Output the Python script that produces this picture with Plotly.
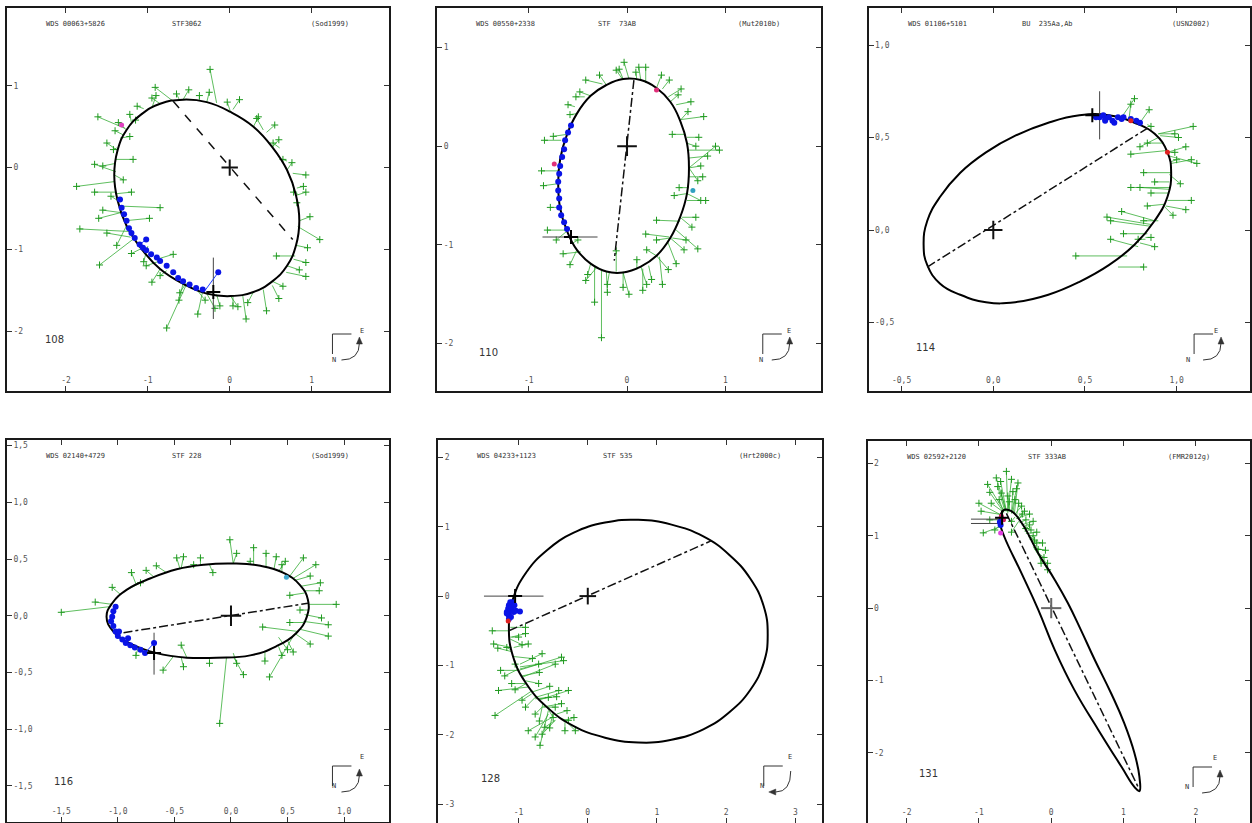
import plotly.graph_objects as go

# ---------------- DATA ----------------
titles_left = ["WDS 00063+5826", "WDS 00550+2338", "WDS 01106+5101",
               "WDS 02140+4729", "WDS 04233+1123", "WDS 02592+2120"]
titles_mid = ["STF3062", "STF  73AB", "BU  235Aa,Ab", "STF 228", "STF 535", "STF 333AB"]
titles_right = ["(Sod1999)", "(Mut2010b)", "(USN2002)", "(Sod1999)", "(Hrt2000c)", "(FMR2012g)"]
panel_numbers = ["108", "110", "114", "116", "128", "131"]

x_tickvals = [[-2, -1, 0, 1], [-1, 0, 1], [-0.5, 0.0, 0.5, 1.0],
              [-1.5, -1.0, -0.5, 0.0, 0.5, 1.0], [-2, -1, 0, 1, 2, 3], [-2, -1, 0, 1, 2]]
x_ticktext = [["-2", "-1", "0", "1"], ["-1", "0", "1"], ["-0,5", "0,0", "0,5", "1,0"],
              ["-1,5", "-1,0", "-0,5", "0,0", "0,5", "1,0"], ["-2", "-1", "0", "1", "2", "3"],
              ["-2", "-1", "0", "1", "2"]]
y_tickvals = [[1, 0, -1, -2], [1, 0, -1, -2], [1.0, 0.5, 0.0, -0.5],
              [1.5, 1.0, 0.5, 0.0, -0.5, -1.0, -1.5], [2, 1, 0, -1, -2, -3], [2, 1, 0, -1, -2, -3]]
y_ticktext = [["1", "0", "-1", "-2"], ["1", "0", "-1", "-2"], ["1,0", "0,5", "0,0", "-0,5"],
              ["1,5", "1,0", "0,5", "0,0", "-0,5", "-1,0", "-1,5"], ["2", "1", "0", "-1", "-2", "-3"],
              ["2", "1", "0", "-1", "-2", "-3"]]

# ---- panel 1 : STF3062
p1_orbit_x = [0.85, 0.81, 0.70, 0.52, 0.29, 0.01, -0.28, -0.57, -0.85, -1.08, -1.26, -1.37, -1.41,
              -1.37, -1.26, -1.08, -0.85, -0.57, -0.28, 0.01, 0.29, 0.52, 0.70, 0.81, 0.85]
p1_orbit_y = [-0.65, -0.34, -0.03, 0.25, 0.50, 0.68, 0.80, 0.83, 0.78, 0.65, 0.46, 0.21, -0.09,
              -0.40, -0.71, -0.99, -1.24, -1.42, -1.54, -1.57, -1.52, -1.39, -1.20, -0.95, -0.65]
p1_apsides_x = [-0.69, 0.77]
p1_apsides_y = [0.81, -0.88]
p1_obs_x = [-0.24, -0.91, -1.61, -1.65, -1.87, -1.83, -0.85, -1.59, -0.77, 1.10,
            0.93, 0.93, 0.20, 0.57, -0.39, -1.02, -0.69, -1.55, -1.65, -1.20,
            -1.22, -1.13, 0.12, 0.33, 0.53, 0.65, 0.90, 0.82, 0.93, 0.45,
            0.04, -0.12, -0.61, -0.85, -1.05, -1.42, -1.18, -0.65, -0.37, 0.55,
            0.78, 0.60, -0.30, -0.98, -1.50,
            0.93, 0.76, 0.60, 0.35, -0.03, -0.25, -0.50, -0.95, -1.15, -1.36,
            -1.50, -1.30, -1.45, -1.38, -1.20, -0.95, -0.62, -0.18, 0.10, 0.22,
            0.65, 0.85, 0.95, 0.98, -1.40, -1.22, -0.90, -1.55, -1.60]
p1_obs_y = [1.20, 0.98, 0.62, 0.04, -0.23, -0.75, -0.49, -1.19, -1.96, -0.88,
            -0.09, -1.33, -1.85, -1.08, -1.79, -1.20, -1.06, -0.52, -0.30, -0.30,
            0.38, 0.75, 0.83, 0.60, 0.30, 0.10, -0.23, -0.43, -1.16, -1.75,
            -1.69, -1.69, -1.53, -1.32, -1.15, 0.22, 0.10, 0.90, 0.88, 0.52,
            -0.30, -1.60, -1.62, -0.62, -0.80,
            -0.30, 0.06, 0.34, 0.62, 0.80, 0.92, 0.95, 0.85, 0.58, 0.55,
            0.30, -0.15, -0.35, -0.95, -1.05, -1.40, -1.62, -1.72, -1.70, -1.65,
            -1.45, -1.25, -0.98, -0.60, 0.45, 0.65, 0.88, 0.02, -0.62]
p1_fit_x = [-0.16, -0.69, -1.28, -1.39, -1.40, -1.24, -1.34, -1.16, -0.53, 0.83,
            0.77, 0.69, 0.16, 0.80, -0.33, -0.85, -0.89, -1.33, -1.40, -1.39,
            -1.34, -1.05, 0.04, 0.41, 0.61, 0.70, 0.82, 0.85, 0.78, 0.41,
            0.04, -0.16, -0.53, -0.77, -1.00, -1.38, -1.40, -0.61, -0.37, 0.45,
            0.84, 0.52, -0.42, -1.28, -1.21,
            0.81, 0.70, 0.52, 0.29, 0.01, -0.28, -0.57, -0.85, -1.08, -1.26,
            -1.37, -1.41, -1.37, -1.26, -1.08, -0.85, -0.57, -0.28, 0.01, 0.29,
            0.52, 0.70, 0.81, 0.85, -1.30, -1.20, -0.95, -1.40, -1.33]
p1_fit_y = [0.79, 0.81, 0.48, -0.05, -0.17, -0.78, -0.47, -0.86, -1.43, -0.72,
            -0.07, -1.28, -1.57, -1.08, -1.51, -1.14, -1.12, -0.55, -0.30, -0.32,
            0.36, 0.72, 0.71, 0.46, 0.24, 0.08, -0.25, -0.43, -1.12, -1.49,
            -1.56, -1.55, -1.41, -1.26, -0.96, 0.24, 0.10, 0.82, 0.82, 0.43,
            -0.33, -1.44, -1.47, -0.65, -0.85,
            -0.34, -0.03, 0.25, 0.50, 0.68, 0.80, 0.83, 0.78, 0.65, 0.46,
            0.21, -0.09, -0.40, -0.71, -0.99, -1.24, -1.42, -1.54, -1.57, -1.52,
            -1.39, -1.20, -0.95, -0.65, 0.40, 0.55, 0.73, 0.05, -0.55]
p1_blue_x = [-1.34, -1.32, -1.29, -1.26, -1.23, -1.20, -1.16, -1.10, -1.06, -1.02, -0.96,
             -0.89, -0.85, -0.77, -0.69, -0.63, -0.57, -0.49, -0.41, -0.33, -1.02, -0.14]
p1_blue_y = [-0.39, -0.49, -0.57, -0.65, -0.74, -0.80, -0.86, -0.94, -0.98, -1.01, -1.06,
             -1.10, -1.14, -1.20, -1.28, -1.35, -1.39, -1.43, -1.47, -1.49, -0.88, -1.28]
p1_bluefit_x = [-0.30, -1.10]
p1_bluefit_y = [-1.50, -0.94]
p1_bluelink_x = [-0.14, -1.02]
p1_bluelink_y = [-1.28, -0.88]
p1_extra_x = [-1.32]
p1_extra_y = [0.52]
p1_extra_c = ["#e040c0"]
p1_now = [-0.20, -1.52]
p1_err_x = [[-0.20, -0.20], [-0.27, -0.13]]
p1_err_y = [[-1.10, -1.85], [-1.52, -1.52]]

# ---- panel 2 : STF 73AB
p2_orbit_x = [0.63, 0.61, 0.54, 0.44, 0.30, 0.14, -0.04, -0.21, -0.37, -0.51, -0.61, -0.68, -0.70,
              -0.68, -0.61, -0.51, -0.37, -0.21, -0.04, 0.14, 0.30, 0.44, 0.54, 0.61, 0.63]
p2_orbit_y = [-0.22, 0.03, 0.26, 0.45, 0.59, 0.67, 0.68, 0.62, 0.51, 0.33, 0.12, -0.13, -0.38,
              -0.63, -0.86, -1.05, -1.19, -1.27, -1.28, -1.22, -1.11, -0.93, -0.72, -0.48, -0.22]
p2_apsides_x = [0.07, -0.13]
p2_apsides_y = [0.67, -1.16]
p2_obs_x = [-0.26, -0.33, 0.94, 0.80, 0.72, -0.84, -0.87, -0.03, 0.43, 0.73,
            0.77, -0.52, -0.42, -0.11, 0.19, -0.81, -0.65, -0.04, 0.16, 0.36,
            0.50, 0.19, -0.42, -0.11, 0.53, 0.70, 0.46, -0.60, 0.78, 0.55,
            -0.50, 0.30, 0.60, 0.10, 0.25, 0.82, -0.78, 0.09, 0.65, -0.20,
            0.75, 0.70, 0.62, 0.52, 0.35, 0.12, -0.08, -0.28, -0.48, -0.58,
            -0.75, -0.85, -0.72, -0.58, -0.40, -0.20, 0.02, 0.20, 0.42, 0.58,
            0.66, 0.75, 0.48, 0.30, 0.20, 0.90, 0.72]
p2_obs_y = [-1.94, -1.58, -0.04, -0.55, -1.04, 0.06, -0.25, 0.85, 0.67, 0.09,
            -0.31, 0.50, 0.67, 0.77, 0.80, -0.85, -1.09, -1.43, -1.46, -1.40,
            -1.19, -0.89, -1.36, -1.06, -0.42, -0.72, 0.12, 0.42, 0.30, 0.58,
            -0.95, -0.75, -0.95, -1.15, -1.35, -0.10, -0.62, 0.75, 0.45, -1.40,
            -0.20, 0.00, 0.35, 0.52, 0.72, 0.80, 0.78, 0.72, 0.55, 0.32,
            0.10, -0.40, -0.95, -1.20, -1.30, -1.48, -1.50, -1.40, -1.25, -1.05,
            -0.82, -0.55, -0.50, -0.95, -1.05, 0.00, -0.35]
p2_fit_x = [-0.26, -0.33, 0.63, 0.61, 0.50, -0.67, -0.70, 0.02, 0.36, 0.61,
            0.63, -0.43, -0.25, -0.04, 0.19, -0.62, -0.47, -0.04, 0.16, 0.33,
            0.41, 0.43, -0.31, -0.11, 0.63, 0.56, 0.60, -0.53, 0.55, 0.42,
            -0.55, 0.54, 0.46, 0.10, 0.22, 0.63, -0.68, 0.10, 0.50, -0.18,
            0.63, 0.61, 0.54, 0.44, 0.30, 0.14, -0.04, -0.21, -0.37, -0.51,
            -0.61, -0.70, -0.61, -0.51, -0.37, -0.21, -0.04, 0.14, 0.30, 0.44,
            0.54, 0.61, 0.61, 0.44, 0.30, 0.63, 0.63]
p2_fit_y = [-1.26, -1.21, -0.04, -0.55, -0.85, 0.06, -0.25, 0.68, 0.58, 0.09,
            -0.31, 0.50, 0.63, 0.67, 0.64, -0.85, -1.07, -1.27, -1.24, -1.12,
            -0.96, -0.92, -1.23, -1.27, -0.42, -0.72, 0.12, 0.40, 0.27, 0.50,
            -0.98, -0.76, -0.93, -1.25, -1.21, -0.12, -0.62, 0.67, 0.42, -1.28,
            -0.22, 0.03, 0.26, 0.45, 0.59, 0.67, 0.68, 0.62, 0.51, 0.33,
            0.12, -0.38, -0.86, -1.05, -1.19, -1.27, -1.28, -1.22, -1.11, -0.93,
            -0.72, -0.48, -0.48, -0.93, -1.11, -0.22, -0.22]
p2_blue_x = [-0.57, -0.60, -0.63, -0.64, -0.66, -0.68, -0.69, -0.70, -0.70, -0.69, -0.69, -0.67, -0.64, -0.61]
p2_blue_y = [0.21, 0.14, 0.06, -0.03, -0.11, -0.20, -0.28, -0.36, -0.45, -0.53, -0.62, -0.70, -0.77, -0.84]
p2_bluefit_x = []
p2_bluefit_y = []
p2_bluelink_x = []
p2_bluelink_y = []
p2_extra_x = [0.30, -0.74, 0.67]
p2_extra_y = [0.57, -0.18, -0.45]
p2_extra_c = ["#e0307a", "#e0307a", "#30a0c0"]
p2_now = [-0.57, -0.92]
p2_err_x = [[-0.86, -0.30], [-0.57, -0.57]]
p2_err_y = [[-0.92, -0.92], [-0.97, -0.87]]

# ---- panel 3 : BU 235Aa,Ab
p3_orbit_x = [0.97, 0.95, 0.88, 0.77, 0.63, 0.47, 0.30, 0.12, -0.04, -0.18, -0.29, -0.36, -0.38,
              -0.36, -0.29, -0.18, -0.04, 0.12, 0.30, 0.47, 0.63, 0.77, 0.88, 0.95, 0.97]
p3_orbit_y = [0.31, 0.42, 0.52, 0.58, 0.62, 0.62, 0.58, 0.51, 0.42, 0.31, 0.18, 0.05, -0.08,
              -0.19, -0.29, -0.35, -0.39, -0.39, -0.35, -0.28, -0.19, -0.08, 0.05, 0.18, 0.31]
p3_apsides_x = [-0.36, 0.84]
p3_apsides_y = [-0.20, 0.55]
p3_obs_x = [0.77, 1.09, 1.11, 1.08, 0.64, 0.88, 0.82, 0.45, 0.80, 0.82,
            0.75, 1.01, 1.05, 0.84, 0.71, 0.84, 0.64, 0.75, 0.62, 1.08,
            0.86, 0.99, 0.86, 0.79, 1.00, 0.88, 0.99, 0.86, 0.75, 0.82,
            1.05, 1.02, 0.98, 0.70, 0.85, 0.80]
p3_obs_y = [0.71, 0.56, 0.36, 0.16, 0.05, -0.09, -0.20, -0.14, 0.23, 0.31,
            0.41, 0.50, 0.11, 0.13, -0.02, 0.47, -0.05, 0.68, 0.07, 0.38,
            0.20, 0.52, 0.56, -0.05, 0.38, 0.26, 0.42, -0.04, 0.23, 0.05,
            0.45, 0.25, 0.08, 0.10, 0.65, 0.45]
p3_fit_x = [0.70, 0.90, 0.96, 0.95, 0.86, 0.80, 0.68, 0.73, 0.96, 0.97,
            0.95, 0.91, 0.94, 0.94, 0.84, 0.93, 0.79, 0.74, 0.86, 0.97,
            0.96, 0.90, 0.84, 0.83, 0.97, 0.96, 0.95, 0.83, 0.96, 0.90,
            0.95, 0.96, 0.93, 0.88, 0.80, 0.90]
p3_fit_y = [0.61, 0.52, 0.40, 0.16, 0.02, -0.07, -0.20, -0.14, 0.22, 0.31,
            0.43, 0.51, 0.13, 0.14, -0.02, 0.47, -0.09, 0.60, 0.03, 0.36,
            0.20, 0.52, 0.57, -0.05, 0.37, 0.26, 0.42, -0.04, 0.23, 0.05,
            0.42, 0.30, 0.13, 0.05, 0.58, 0.50]
p3_blue_x = [0.56, 0.58, 0.60, 0.61, 0.63, 0.65, 0.66, 0.68, 0.70, 0.71, 0.75, 0.78, 0.80, 0.61]
p3_blue_y = [0.61, 0.61, 0.62, 0.60, 0.61, 0.59, 0.58, 0.61, 0.60, 0.61, 0.60, 0.59, 0.58, 0.59]
p3_bluefit_x = []
p3_bluefit_y = []
p3_bluelink_x = []
p3_bluelink_y = []
p3_extra_x = [0.75, 0.95]
p3_extra_y = [0.59, 0.42]
p3_extra_c = ["#e02020", "#e02020"]
p3_now = [0.54, 0.62]
p3_err_x = [[0.58, 0.58]]
p3_err_y = [[0.49, 0.75]]

# ---- panel 4 : STF 228
p4_orbit_x = [0.02, 0.26, 0.46, 0.61, 0.68, 0.67, 0.58, 0.40, 0.17, -0.13, -0.39, -0.66, -0.86,
              -1.04, -1.10, -1.05, -0.92, -0.71, -0.48, -0.24, 0.02]
p4_orbit_y = [0.46, 0.44, 0.38, 0.27, 0.14, -0.01, -0.15, -0.27, -0.35, -0.37, -0.37, -0.33, -0.26,
              -0.14, -0.01, 0.11, 0.23, 0.33, 0.41, 0.45, 0.46]
p4_apsides_x = [-0.95, 0.68]
p4_apsides_y = [-0.15, 0.11]
p4_obs_x = [-1.50, -0.10, 0.34, 0.86, 0.93, 0.79, -0.01, 0.20, -0.27, -0.66,
            -0.48, 0.31, 0.64, -0.60, -0.44, 0.11, -0.19, 0.61, 0.52, 0.28,
            -0.80, -0.16, 0.45, 0.55, 0.86, 0.75, -0.33, -0.75, 0.40, 0.52,
            0.70, -0.84, 0.17, 0.45, 0.30,
            -1.20, -1.05, -0.88, -0.42, 0.05, 0.48, 0.70, 0.78, 0.80, 0.50, 0.05, -0.42]
p4_obs_y = [0.03, -0.95, -0.54, -0.18, 0.10, 0.29, 0.67, 0.60, 0.51, 0.44,
            0.51, 0.55, 0.51, -0.48, -0.26, -0.52, -0.42, 0.05, -0.06, -0.10,
            0.29, 0.38, -0.35, -0.32, -0.08, 0.45, 0.45, 0.40, 0.52, 0.18,
            -0.25, -0.35, 0.48, 0.45, -0.40,
            0.12, 0.25, 0.38, 0.52, 0.55, 0.48, 0.35, 0.22, -0.02, -0.30, -0.42, -0.45]
p4_fit_x = [-1.07, -0.04, 0.55, 0.61, 0.68, 0.62, 0.02, 0.20, -0.27, -0.57,
            -0.45, 0.31, 0.52, -0.51, -0.39, 0.02, -0.19, 0.68, 0.64, 0.60,
            -0.92, -0.19, 0.42, 0.50, 0.64, 0.55, -0.36, -0.68, 0.38, 0.65,
            0.57, -0.82, 0.14, 0.45, 0.30,
            -1.05, -0.98, -0.84, -0.44, 0.02, 0.42, 0.56, 0.65, 0.65, 0.42, 0.02, -0.44]
p4_fit_y = [0.08, -0.37, -0.18, -0.12, 0.10, 0.26, 0.46, 0.45, 0.44, 0.38,
            0.41, 0.43, 0.35, -0.36, -0.37, -0.36, -0.37, 0.05, -0.06, -0.14,
            0.23, 0.45, -0.27, -0.22, -0.05, 0.33, 0.43, 0.34, 0.41, 0.20,
            -0.16, -0.28, 0.45, 0.38, -0.31,
            0.10, 0.19, 0.28, 0.42, 0.46, 0.39, 0.31, 0.22, 0.01, -0.19, -0.33, -0.37]
p4_blue_x = [-1.02, -1.04, -1.05, -1.06, -1.04, -1.02, -1.00, -0.96, -0.93, -0.89, -0.85, -0.80,
             -0.76, -0.68, -0.99, -0.91]
p4_blue_y = [0.08, 0.04, -0.01, -0.05, -0.09, -0.14, -0.18, -0.21, -0.24, -0.26, -0.28, -0.30,
             -0.33, -0.24, -0.14, -0.20]
p4_bluefit_x = [-0.76]
p4_bluefit_y = [-0.33]
p4_bluelink_x = [-0.68]
p4_bluelink_y = [-0.24]
p4_extra_x = [0.49]
p4_extra_y = [0.34]
p4_extra_c = ["#40a8d0"]
p4_now = [-0.68, -0.33]
p4_err_x = [[-0.68, -0.68]]
p4_err_y = [[-0.15, -0.52]]

# ---- panel 5 : STF 535
p5_orbit_x = [2.60, 2.54, 2.35, 2.05, 1.67, 1.21, 0.73, 0.25, -0.21, -0.59, -0.89, -1.08, -1.14,
              -1.08, -0.89, -0.59, -0.21, 0.25, 0.73, 1.21, 1.67, 2.05, 2.35, 2.54, 2.60]
p5_orbit_y = [-0.56, -0.14, 0.25, 0.59, 0.86, 1.03, 1.10, 1.06, 0.91, 0.66, 0.34, -0.04, -0.46,
              -0.87, -1.26, -1.60, -1.87, -2.04, -2.11, -2.07, -1.92, -1.67, -1.35, -0.97, -0.56]
p5_apsides_x = [-1.14, 1.79]
p5_apsides_y = [-0.50, 0.80]
p5_obs_x = [-1.38, -1.34, -0.38, -0.69, -0.18, -1.29, -1.26, -1.36, -0.90, -0.66,
            -0.47, -0.42, -0.38, -0.62, -0.76, -0.86, -1.10, -0.76, -0.95, -0.90,
            -0.28, -0.35, -1.17, -0.71, -0.57, -0.33, -0.86, -1.05, -0.47, -0.28,
            -0.71, -1.00, -0.66,
            -1.30, -0.80, -0.70, -0.55, -0.45, -0.50, -0.30, -0.20, -0.90, -1.05,
            -1.20, -0.95, -0.70, -0.55]
p5_obs_y = [-0.50, -1.72, -0.88, -2.15, -1.94, -1.36, -1.07, -0.69, -0.54, -0.83,
            -0.98, -1.36, -1.55, -1.89, -2.03, -0.69, -1.26, -1.70, -1.50, -0.45,
            -1.79, -0.93, -0.74, -1.26, -1.46, -1.94, -1.94, -0.98, -1.60, -1.36,
            -0.98, -0.59, -1.99,
            -0.75, -0.90, -1.10, -1.30, -1.45, -1.75, -1.65, -1.75, -1.60, -1.35,
            -1.15, -0.70, -1.80, -1.90]
p5_fit_x = [-1.14, -0.80, -1.00, -0.57, -0.33, -0.86, -1.00, -1.10, -1.10, -0.98,
            -0.95, -0.76, -0.66, -0.47, -0.57, -1.07, -0.90, -0.66, -0.81, -1.12,
            -0.38, -0.98, -1.10, -0.90, -0.76, -0.33, -0.52, -1.01, -0.64, -0.71,
            -0.98, -1.12, -0.47,
            -1.10, -1.08, -0.95, -0.80, -0.70, -0.59, -0.45, -0.35, -0.75, -0.89,
            -1.00, -1.12, -0.65, -0.50]
p5_fit_y = [-0.50, -1.36, -1.07, -1.65, -1.79, -1.31, -1.07, -0.74, -0.59, -0.98,
            -1.17, -1.46, -1.60, -1.79, -1.70, -0.74, -1.26, -1.60, -1.41, -0.45,
            -1.77, -1.02, -0.78, -1.22, -1.48, -1.82, -1.75, -1.02, -1.60, -1.50,
            -1.05, -0.59, -1.79,
            -0.80, -0.87, -1.15, -1.38, -1.48, -1.60, -1.70, -1.80, -1.45, -1.26,
            -1.05, -0.62, -1.55, -1.67]
p5_blue_x = [-1.12, -1.14, -1.15, -1.17, -1.14, -1.12, -1.10, -1.07, -1.04, -0.98, -1.14, -1.11,
             -1.17, -1.09, -1.06]
p5_blue_y = [-0.09, -0.13, -0.18, -0.23, -0.28, -0.21, -0.16, -0.23, -0.21, -0.22, -0.33, -0.30,
             -0.25, -0.09, -0.13]
p5_bluefit_x = []
p5_bluefit_y = []
p5_bluelink_x = []
p5_bluelink_y = []
p5_extra_x = [-1.15]
p5_extra_y = [-0.36]
p5_extra_c = ["#e02020"]
p5_now = [-1.05, 0.0]
p5_err_x = [[-1.50, -0.64], [-1.05, -1.05]]
p5_err_y = [[0.0, 0.0], [-0.05, 0.05]]

# ---- panel 6 : STF 333AB
p6_orbit_x = [-0.65, -0.55, -0.41, -0.18, 0.05, 0.23, 0.41, 0.60, 0.83, 1.01, 1.15, 1.22, 1.22, 1.15,
              0.97, 0.65, 0.32, 0.05, -0.18, -0.41, -0.65, -0.71, -0.70, -0.65]
p6_orbit_y = [1.36, 1.34, 1.18, 0.76, 0.39, 0.07, -0.30, -0.71, -1.18, -1.59, -2.00, -2.33, -2.53, -2.47,
              -2.19, -1.68, -1.13, -0.58, -0.02, 0.48, 0.99, 1.18, 1.29, 1.36]
p6_apsides_x = [-0.62, 1.22]
p6_apsides_y = [1.31, -2.51]
p6_obs_x = [-0.62, -0.88, -0.76, -0.53, -0.97, -0.94, -0.37, -0.05, -0.28, -0.69,
            -0.83, -0.41, -0.23, -0.14, -0.46, -0.78, -0.85, -0.58, -0.35, -0.18,
            -0.74, -0.30, -0.25, -0.60, -0.50, -0.40, -0.20, -0.10, -0.45, -0.72,
            -0.35, -0.55,
            -0.70, -0.48, -0.30, -0.25, -0.20, -0.12, -0.08, -0.05, -0.85, -1.00, -0.55, -0.55]
p6_obs_y = [1.89, 1.71, 1.80, 1.61, 1.34, 1.04, 1.34, 0.53, 1.08, 1.59,
            1.45, 1.41, 0.94, 0.62, 1.73, 1.08, 1.22, 1.47, 1.22, 0.81,
            1.68, 1.15, 1.00, 1.55, 1.50, 1.30, 0.90, 0.70, 1.45, 1.50,
            1.10, 1.20,
            1.75, 1.65, 1.30, 1.20, 1.05, 0.90, 0.80, 0.62, 1.60, 1.45, 1.78, 1.05]
p6_fit_x = [-0.60, -0.65, -0.62, -0.55, -0.67, -0.69, -0.48, -0.25, -0.39, -0.63,
            -0.65, -0.51, -0.32, -0.16, -0.51, -0.68, -0.68, -0.58, -0.44, -0.23,
            -0.64, -0.37, -0.30, -0.58, -0.53, -0.45, -0.25, -0.18, -0.48, -0.66,
            -0.40, -0.50,
            -0.62, -0.55, -0.48, -0.41, -0.35, -0.28, -0.22, -0.15, -0.66, -0.68, -0.60, -0.45]
p6_fit_y = [1.31, 1.34, 1.34, 1.31, 1.29, 1.13, 1.24, 0.85, 1.13, 1.34,
            1.32, 1.29, 0.99, 0.71, 1.31, 1.18, 1.22, 1.34, 1.18, 0.88,
            1.34, 1.06, 0.95, 1.34, 1.32, 1.22, 0.88, 0.76, 1.27, 1.33,
            1.10, 1.26,
            1.34, 1.31, 1.24, 1.15, 1.03, 0.93, 0.83, 0.68, 1.33, 1.28, 1.33, 1.20]
p6_blue_x = [-0.70, -0.71]
p6_blue_y = [1.15, 1.19]
p6_bluefit_x = []
p6_bluefit_y = []
p6_bluelink_x = []
p6_bluelink_y = []
p6_extra_x = [-0.69, -0.66, -0.70]
p6_extra_y = [1.27, 1.22, 1.04]
p6_extra_c = ["#d02060", "#d02060", "#e040e0"]
p6_now = [-0.68, 1.25]
p6_err_x = [[-1.11, -0.69], [-1.11, -0.69]]
p6_err_y = [[1.23, 1.23], [1.17, 1.17]]

# ---------------- LAYOUT CONSTANTS ----------------
W, H = 1252, 823
frames = [(7, 8, 390, 391), (438, 8, 822, 391), (870, 8, 1252, 391),
          (7, 440, 390, 822), (439, 440, 823, 823), (869, 441, 1252, 823)]
x_ranges = [[-2.72, 1.95], [-1.93, 1.97], [-0.68, 1.40], [-1.98, 1.40], [-2.16, 3.38], [-2.54, 2.75]]
y_ranges = [[-2.73, 1.95], [-2.48, 1.40], [-0.87, 1.20], [-1.82, 1.55], [-3.27, 2.25], [-2.97, 2.31]]
cross_half = [0.10, 0.10, 0.05, 0.09, 0.12, 0.14]
cross_color = ["#111", "#111", "#111", "#111", "#111", "#666"]
apsides_dash = ["dash", "dashdot", "dashdot", "dashdot", "dashdot", "dashdot"]
num_pos = [(36, 52), (40, 39), (45, 44), (45, 41), (41, 45), (49, 50)]

panels = [
    dict(ox=p1_orbit_x, oy=p1_orbit_y, ax=p1_apsides_x, ay=p1_apsides_y, obx=p1_obs_x, oby=p1_obs_y,
         fx=p1_fit_x, fy=p1_fit_y, bx=p1_blue_x, by=p1_blue_y, bfx=p1_bluefit_x, bfy=p1_bluefit_y,
         blx=p1_bluelink_x, bly=p1_bluelink_y, ex=p1_extra_x, ey=p1_extra_y, ec=p1_extra_c,
         now=p1_now, errx=p1_err_x, erry=p1_err_y),
    dict(ox=p2_orbit_x, oy=p2_orbit_y, ax=p2_apsides_x, ay=p2_apsides_y, obx=p2_obs_x, oby=p2_obs_y,
         fx=p2_fit_x, fy=p2_fit_y, bx=p2_blue_x, by=p2_blue_y, bfx=p2_bluefit_x, bfy=p2_bluefit_y,
         blx=p2_bluelink_x, bly=p2_bluelink_y, ex=p2_extra_x, ey=p2_extra_y, ec=p2_extra_c,
         now=p2_now, errx=p2_err_x, erry=p2_err_y),
    dict(ox=p3_orbit_x, oy=p3_orbit_y, ax=p3_apsides_x, ay=p3_apsides_y, obx=p3_obs_x, oby=p3_obs_y,
         fx=p3_fit_x, fy=p3_fit_y, bx=p3_blue_x, by=p3_blue_y, bfx=p3_bluefit_x, bfy=p3_bluefit_y,
         blx=p3_bluelink_x, bly=p3_bluelink_y, ex=p3_extra_x, ey=p3_extra_y, ec=p3_extra_c,
         now=p3_now, errx=p3_err_x, erry=p3_err_y),
    dict(ox=p4_orbit_x, oy=p4_orbit_y, ax=p4_apsides_x, ay=p4_apsides_y, obx=p4_obs_x, oby=p4_obs_y,
         fx=p4_fit_x, fy=p4_fit_y, bx=p4_blue_x, by=p4_blue_y, bfx=p4_bluefit_x, bfy=p4_bluefit_y,
         blx=p4_bluelink_x, bly=p4_bluelink_y, ex=p4_extra_x, ey=p4_extra_y, ec=p4_extra_c,
         now=p4_now, errx=p4_err_x, erry=p4_err_y),
    dict(ox=p5_orbit_x, oy=p5_orbit_y, ax=p5_apsides_x, ay=p5_apsides_y, obx=p5_obs_x, oby=p5_obs_y,
         fx=p5_fit_x, fy=p5_fit_y, bx=p5_blue_x, by=p5_blue_y, bfx=p5_bluefit_x, bfy=p5_bluefit_y,
         blx=p5_bluelink_x, bly=p5_bluelink_y, ex=p5_extra_x, ey=p5_extra_y, ec=p5_extra_c,
         now=p5_now, errx=p5_err_x, erry=p5_err_y),
    dict(ox=p6_orbit_x, oy=p6_orbit_y, ax=p6_apsides_x, ay=p6_apsides_y, obx=p6_obs_x, oby=p6_obs_y,
         fx=p6_fit_x, fy=p6_fit_y, bx=p6_blue_x, by=p6_blue_y, bfx=p6_bluefit_x, bfy=p6_bluefit_y,
         blx=p6_bluelink_x, bly=p6_bluelink_y, ex=p6_extra_x, ey=p6_extra_y, ec=p6_extra_c,
         now=p6_now, errx=p6_err_x, erry=p6_err_y),
]


def segments(x0, y0, x1, y1):
    xs, ys = [], []
    for a, b, c, d in zip(x0, y0, x1, y1):
        xs += [a, c, None]
        ys += [b, d, None]
    return xs, ys


def px2paper(px, py):
    return px / W, 1 - py / H


fig = go.Figure()
shapes = []
annotations = []
GREEN_LINE = "rgba(45,170,45,0.85)"
GREEN_MARK = "#1f9a1f"

for i, p in enumerate(panels):
    n = i + 1
    xa = "x" if n == 1 else f"x{n}"
    ya = "y" if n == 1 else f"y{n}"
    xkey = "xaxis" if n == 1 else f"xaxis{n}"
    ykey = "yaxis" if n == 1 else f"yaxis{n}"
    fl, ft, fr, fb = frames[i]
    common = dict(showgrid=False, zeroline=False, showline=True, linecolor="#1a1a1a", linewidth=2,
                  mirror="allticks", ticks="inside", ticklen=5, tickwidth=1, tickcolor="#333",
                  ticklabelposition="inside", tickfont=dict(family="DejaVu Sans Mono", size=8, color="#555"),
                  fixedrange=True)
    fig.update_layout({
        xkey: dict(domain=[fl / W, fr / W], range=x_ranges[i], anchor=ya,
                   tickvals=x_tickvals[i], ticktext=x_ticktext[i], **common),
        ykey: dict(domain=[1 - fb / H, 1 - ft / H], range=y_ranges[i], anchor=xa,
                   tickvals=y_tickvals[i], ticktext=y_ticktext[i], **common),
    })

    # green residual lines and observation markers
    sx, sy = segments(p["obx"], p["oby"], p["fx"], p["fy"])
    fig.add_trace(go.Scatter(x=sx, y=sy, mode="lines", xaxis=xa, yaxis=ya,
                             line=dict(color=GREEN_LINE, width=0.9), hoverinfo="skip", showlegend=False))
    fig.add_trace(go.Scatter(x=p["obx"], y=p["oby"], mode="markers", xaxis=xa, yaxis=ya,
                             marker=dict(symbol="cross-thin", size=5, line=dict(color=GREEN_MARK, width=1)),
                             hoverinfo="skip", showlegend=False))
    # orbit
    fig.add_trace(go.Scatter(x=p["ox"], y=p["oy"], mode="lines", xaxis=xa, yaxis=ya,
                             line=dict(color="#000", width=2, shape="spline", smoothing=1.3, simplify=False),
                             hoverinfo="skip", showlegend=False))
    # line of nodes
    fig.add_trace(go.Scatter(x=p["ax"], y=p["ay"], mode="lines", xaxis=xa, yaxis=ya,
                             line=dict(color="#111", width=1.5, dash=apsides_dash[i]),
                             hoverinfo="skip", showlegend=False))
    # primary star cross at origin
    h = cross_half[i]
    cx, cy = segments([-h, 0], [0, -h], [h, 0], [0, h])
    fig.add_trace(go.Scatter(x=cx, y=cy, mode="lines", xaxis=xa, yaxis=ya,
                             line=dict(color=cross_color[i], width=2), hoverinfo="skip", showlegend=False))
    # error lines for current position
    ex_, ey_ = [], []
    for xx, yy in zip(p["errx"], p["erry"]):
        ex_ += xx + [None]
        ey_ += yy + [None]
    fig.add_trace(go.Scatter(x=ex_, y=ey_, mode="lines", xaxis=xa, yaxis=ya,
                             line=dict(color="#444", width=1), hoverinfo="skip", showlegend=False))
    # blue (interferometric) points
    if p["blx"]:
        bx, by = segments(p["blx"], p["bly"], p["bfx"], p["bfy"])
        fig.add_trace(go.Scatter(x=bx, y=by, mode="lines", xaxis=xa, yaxis=ya,
                                 line=dict(color="#2040ff", width=1), hoverinfo="skip", showlegend=False))
    fig.add_trace(go.Scatter(x=p["bx"], y=p["by"], mode="markers", xaxis=xa, yaxis=ya,
                             marker=dict(symbol="circle", size=6, color="#0a14e6"),
                             hoverinfo="skip", showlegend=False))
    fig.add_trace(go.Scatter(x=p["ex"], y=p["ey"], mode="markers", xaxis=xa, yaxis=ya,
                             marker=dict(symbol="circle", size=5, color=p["ec"]),
                             hoverinfo="skip", showlegend=False))
    # current position
    fig.add_trace(go.Scatter(x=[p["now"][0]], y=[p["now"][1]], mode="markers", xaxis=xa, yaxis=ya,
                             marker=dict(symbol="cross-thin", size=10, line=dict(color="#000", width=2)),
                             hoverinfo="skip", showlegend=False))

    # header texts
    dref_x = f"{xa} domain"
    dref_y = f"{ya} domain"
    hdr_font = dict(family="DejaVu Sans Mono", size=7, color="#333")
    annotations.append(dict(text=titles_left[i], xref=dref_x, yref=dref_y, x=0.097, y=0.958,
                            xanchor="left", yanchor="middle", showarrow=False, font=hdr_font))
    annotations.append(dict(text=titles_mid[i], xref=dref_x, yref=dref_y, x=0.47, y=0.958,
                            xanchor="center", yanchor="middle", showarrow=False, font=hdr_font))
    annotations.append(dict(text=titles_right[i], xref=dref_x, yref=dref_y, x=0.90, y=0.958,
                            xanchor="right", yanchor="middle", showarrow=False, font=hdr_font))
    nx, ny = num_pos[i]
    annotations.append(dict(text=panel_numbers[i], xref="paper", yref="paper",
                            x=(fl + nx) / W, y=1 - (fb - ny) / H, xanchor="left", yanchor="middle",
                            showarrow=False, font=dict(family="DejaVu Sans", size=10, color="#333")))

    # compass (N / E) in the lower-right corner
    def P(rx, ry):
        return px2paper(fl + rx, ft + ry)
    a = P(326, 326); b = P(326, 346); c = P(345, 326)
    shapes.append(dict(type="line", xref="paper", yref="paper", x0=a[0], y0=a[1], x1=b[0], y1=b[1],
                       line=dict(color="#333", width=1)))
    shapes.append(dict(type="line", xref="paper", yref="paper", x0=a[0], y0=a[1], x1=c[0], y1=c[1],
                       line=dict(color="#333", width=1)))
    e = P(352, 323); nn = P(324, 352)
    annotations.append(dict(text="E", xref="paper", yref="paper", x=e[0], y=e[1], showarrow=False,
                            font=dict(family="DejaVu Sans Mono", size=7, color="#333")))
    annotations.append(dict(text="N", xref="paper", yref="paper", x=nn[0], y=nn[1], showarrow=False,
                            font=dict(family="DejaVu Sans Mono", size=7, color="#333")))
    if n != 5:
        s0 = P(335, 352); q = P(353, 352); s1 = P(353, 335)
        t = P(353, 329); l1 = P(350, 336); l2 = P(356, 336)
    else:
        s0 = P(353, 331); q = P(353, 352); s1 = P(338, 352)
        t = P(331, 352); l1 = P(338, 349); l2 = P(338, 355)
    shapes.append(dict(type="path", xref="paper", yref="paper",
                       path=f"M {s0[0]} {s0[1]} Q {q[0]} {q[1]} {s1[0]} {s1[1]}",
                       line=dict(color="#333", width=1)))
    shapes.append(dict(type="path", xref="paper", yref="paper",
                       path=f"M {t[0]} {t[1]} L {l1[0]} {l1[1]} L {l2[0]} {l2[1]} Z",
                       fillcolor="#333", line=dict(color="#333", width=0.5)))

fig.update_layout(width=W, height=H, margin=dict(l=0, r=0, t=0, b=0), autosize=False,
                  paper_bgcolor="white", plot_bgcolor="white", showlegend=False,
                  shapes=shapes, annotations=annotations)
fig.write_html("out.html")
